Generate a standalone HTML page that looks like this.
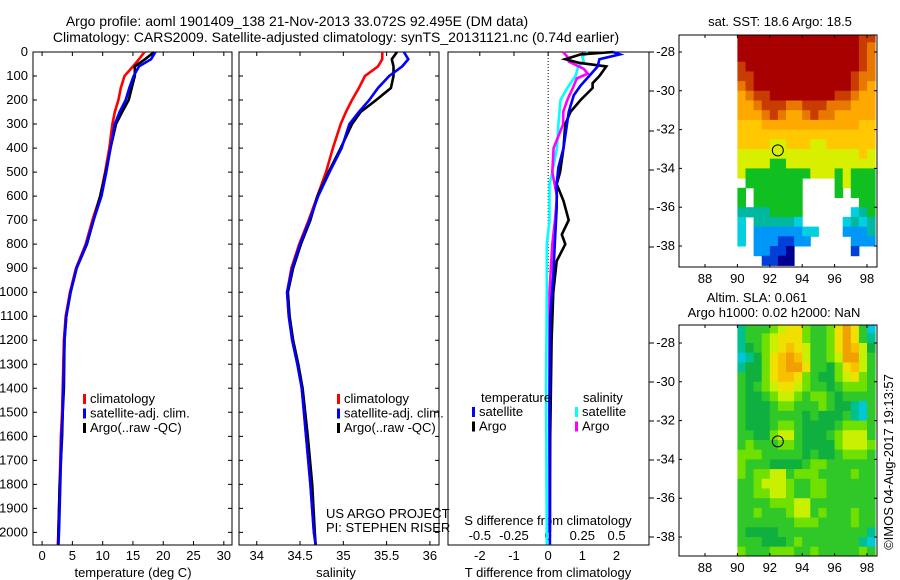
<!DOCTYPE html>
<html><head><meta charset="utf-8"><style>
html,body{margin:0;padding:0;background:#fff;}
svg{display:block;font-family:"Liberation Sans",sans-serif;font-size:13px;}
.ttl{font-size:14px;}
</style></head><body>
<svg id="fig" width="900" height="580" viewBox="0 0 900 580" xmlns="http://www.w3.org/2000/svg">
<text class="ttl" x="297" y="26" text-anchor="middle">Argo profile: aoml 1901409_138 21-Nov-2013 33.072S 92.495E (DM data)</text>
<text class="ttl" x="336" y="42" text-anchor="middle">Climatology: CARS2009. Satellite-adjusted climatology: synTS_20131121.nc (0.74d earlier)</text>
</svg>
<script>
// ---------- data ----------
const depthTicks=[0,100,200,300,400,500,600,700,800,900,1000,1100,1200,1300,1400,1500,1600,1700,1800,1900,2000];
const tempTicks=[0,5,10,15,20,25,30];
const salTicks=[34,34.5,35,35.5,36];
const salTickLabels=["34","34.5","35","35.5","36"];
const dTTicks=[-2,-1,0,1,2];
const dSTicks=[-0.5,-0.25,0,0.25,0.5];
const dSTickLabels=["-0.5","-0.25","0","0.25","0.5"];

const tDepth=[0,30,60,100,150,200,250,300,400,500,600,700,800,900,1000,1100,1200,1400,1500,1600,1800,2000,2050];
const climT=[16.9,16.0,15,13.6,13,12.6,12,11.6,11.1,10.4,9.6,8.3,7.2,5.6,4.6,3.9,3.6,3.4,3.3,3.1,2.9,2.7,2.6];
const satT=[18.7,18,16,15.1,14.4,13.8,12.8,12,11.3,10.6,9.8,8.5,7.3,5.7,4.7,4.0,3.7,3.5,3.4,3.2,3.0,2.8,2.7];
const argoT=[18.5,17,15.3,15.3,14.8,14.3,13.2,12.2,11.3,10.5,9.6,8.5,7.4,5.7,4.7,4.0,3.7,3.6,3.4,3.3,2.9,2.7,2.7];

const sDepth=[0,30,60,100,150,200,250,300,400,500,600,700,800,900,1000,1100,1200,1300,1400,1600,1800,2000,2050];
const climS=[35.45,35.45,35.4,35.25,35.18,35.1,35.03,34.97,34.88,34.8,34.7,34.6,34.49,34.4,34.35,34.37,34.41,34.47,34.52,34.57,34.62,34.66,34.68];
const satS=[35.7,35.75,35.68,35.53,35.4,35.3,35.18,35.07,34.98,34.84,34.71,34.61,34.5,34.41,34.35,34.37,34.41,34.47,34.52,34.57,34.62,34.66,34.68];
const argoS=[35.62,35.56,35.58,35.58,35.55,35.38,35.2,35.1,34.97,34.83,34.7,34.62,34.51,34.42,34.36,34.38,34.42,34.48,34.53,34.59,34.64,34.67,34.68];

const dTsatDepth=[0,10,30,60,100,140,180,250,350,400,480,550,650,780,930,1100,1480,1940,2050];
const dTsat=[1.9,2.1,1.5,1.45,1.2,0.95,0.75,0.6,0.5,0.45,0.3,0.25,0.25,0.2,0.15,0.06,0.04,0.05,0.05];
const dTargoDepth=[0,10,30,45,60,100,130,150,200,250,300,400,500,550,620,700,760,800,870,1000,1200,1400,1600,2000];
const dTargo=[1.9,0.95,0.5,0.9,1.7,1.5,1.3,1.3,0.95,0.65,0.5,0.45,0.35,0.25,0.45,0.6,0.4,0.5,0.25,0.15,0.1,0.08,0.06,0.05];
const dSsatDepth=[0,20,40,60,100,150,200,300,400,500,550,700,800,1000,1400,2050];
const dSsat=[0.29,0.25,0.26,0.22,0.2,0.14,0.09,0.075,0.065,0.03,0.01,0.01,-0.01,-0.01,-0.015,-0.01];
const dSargoDepth=[0,20,40,70,90,110,150,200,250,300,400,500,600,700,800,1000,1500,2000];
const dSargo=[0.11,0.14,0.15,0.26,0.29,0.21,0.18,0.14,0.11,0.11,0.04,0.03,0.065,0.05,0.03,0.01,0.01,0.01];

const mapLonTicks=[88,90,92,94,96,98];
const mapLatTicks=[-28,-30,-32,-34,-36,-38];
const sstRows=[
"99999999999999988","99999999999999987","99999999999999987","89999999999999987",
"88999999999999877","78999999999999876","67889999999988766","66788877888777666",
"66678766787766666","55566666666666655","55555555555555555","55554455544555555",
"44444444444444454","44443344444444444","43333333344434333",".3333333....34333",
"3.333333....3.333","3.333333.......33","22223333......c23","c.22222c.....c2c2",
"c.111111cc...1112","c.1110011.....111","..1100n.......0..","...00nn.........."];
const slaRows=[
"tggglyYYlgglYOYgc","tgglyYYYlgglYOYgt","tGglyYoYygglYOoyG","ctGlYoOoygglyOOyg",
"tGGlYoOOYggGlYoyg","gGGlYooYlgGGlyYlg","gGglyYYylggGglllg","gGGglyylgllgGgggg",
"gGGGgllggglgGGtcg","gGGGggggGgGGGgtcg","gGGGgllgGGGGglllg","ggGGlyygGGGglyyyg",
"glgggllgGGGGlyyyl","lllgggggGgGGglllg","lgggGGGGgllgggggg","lgllyyglllgggglgg",
"gglyyylggllgggggg","ggllyylggllgggggg","gggglllyygggggggg","gglggglyyglggglgg",
"ggggggglllgggglgg","gGGGGgggggggggggt","gggGGGglgggggggtc","lggglllgglggggglg"];
const argoLon=92.495, argoLat=-33.072;

// ---------- helpers ----------
const NS="http://www.w3.org/2000/svg";
const svg=document.getElementById('fig');
function mk(tag,attrs,parent){const e=document.createElementNS(NS,tag);for(const k in attrs)e.setAttribute(k,attrs[k]);(parent||svg).appendChild(e);return e;}
function txt(x,y,s,anchor,parent){const e=mk('text',{x:x,y:y,'text-anchor':anchor||'start'},parent);e.textContent=s;return e;}

const Y=d=>52+d*0.2402;
const boxTop=52, boxBot=545;
const P1={x0:33,x1:232,vmin:-1.5,vmax:31.35};
const P2={x0:239,x1:439,vmin:33.795,vmax:36.105};
const P3={x0:448,x1:649,vmin:-2.93,vmax:2.95};
const X=(p,v)=>p.x0+(v-p.vmin)/(p.vmax-p.vmin)*(p.x1-p.x0);
const XS=v=>X(P3,v*4);

function drawBox(p,name){
  const r=mk('rect',{x:p.x0,y:boxTop,width:p.x1-p.x0,height:boxBot-boxTop,fill:'none',stroke:'#000','stroke-width':1});
  
  
  depthTicks.forEach(d=>{
    const t=mk('path',{d:`M${p.x0},${Y(d)}h4M${p.x1},${Y(d)}h-4`,stroke:'#000'});
    
    
  });
}
function series(p,xs,ds,color,name,xf){
  const pts=xs.map((v,i)=>`${(xf?xf(v):X(p,v)).toFixed(1)},${Y(ds[i]).toFixed(1)}`).join(' ');
  const l=mk('polyline',{points:pts,fill:'none',stroke:color,'stroke-width':2.6,'stroke-linejoin':'miter'});
  
  
}

drawBox(P1,'temperature-plot-area');
depthTicks.forEach(d=>{const t=txt(28,Y(d)+4,String(d),'end');

});
tempTicks.forEach(v=>{const x=X(P1,v);
const m=mk('path',{d:`M${x},${boxBot}v-4M${x},${boxTop}v4`,stroke:'#000'});


const t=txt(x,560,String(v),'middle');

});
series(P1,climT,tDepth,'#f00','temperature-climatology-line');
series(P1,argoT,tDepth,'#000','temperature-argo-line');
series(P1,satT,tDepth,'#00f','temperature-satellite-line');
const xl1=txt(133,577,'temperature (deg C)','middle');



drawBox(P2,'salinity-plot-area');
salTicks.forEach((v,i)=>{const x=X(P2,v);
const m=mk('path',{d:`M${x},${boxBot}v-4M${x},${boxTop}v4`,stroke:'#000'});


const t=txt(x,560,salTickLabels[i],'middle');

});
series(P2,climS,sDepth,'#f00','salinity-climatology-line');
series(P2,argoS,sDepth,'#000','salinity-argo-line');
series(P2,satS,sDepth,'#00f','salinity-satellite-line');
const xl2=txt(336,577,'salinity','middle');



function legend(x,y,items,prefix){
  items.forEach((it,i)=>{
    const b=mk('rect',{x:x,y:y+i*14.5-9,width:3,height:10,fill:it[1]});
    
    
    const t=txt(x+7,y+i*14.5,it[0]);
    
    
  });
}
const legItems=[['climatology','#f00'],['satellite-adj. clim.','#00f'],['Argo(..raw -QC)','#000']];
legend(83,403,legItems,'temperature');
legend(337,403,legItems,'salinity');
const us1=txt(326,518,'US ARGO PROJECT');


const us2=txt(326,532,'PI: STEPHEN RISER');



const b3=mk('rect',{x:P3.x0,y:boxTop,width:P3.x1-P3.x0,height:boxBot-boxTop,fill:'none',stroke:'#000'});


const rTicks=[52,91,131,170,209,247,343,382,421,460,498,537];
rTicks.forEach(y=>{const m=mk('path',{d:`M${P3.x1},${y}h5`,stroke:'#000'});

});
const zl=mk('line',{x1:X(P3,0),y1:boxTop,x2:X(P3,0),y2:272,stroke:'#000','stroke-dasharray':'1,2'});


dTTicks.forEach(v=>{const x=X(P3,v);
const m=mk('path',{d:`M${x},${boxTop}v4`,stroke:'#000'});


const t=txt(x,560,String(v),'middle');

});
dSTicks.forEach((v,i)=>{const t=txt(XS(v),540,dSTickLabels[i],'middle');

});
const sdt=txt(548,525,'S difference from climatology','middle');


const tdt=txt(548,577,'T difference from climatology','middle');


series(P3,dSsat,dSsatDepth,'#0ff','salinity-satellite-difference-line',XS);
series(P3,dSargo,dSargoDepth,'#f0f','salinity-argo-difference-line',XS);
series(P3,dTargo,dTargoDepth,'#000','temperature-argo-difference-line');
series(P3,dTsat,dTsatDepth,'#00f','temperature-satellite-difference-line');
const lt=txt(481,402,'temperature');


const ls=txt(583,402,'salinity');


legend(472,416,[['satellite','#00f'],['Argo','#000']],'difference-temperature');
legend(575,416,[['satellite','#0ff'],['Argo','#f0f']],'difference-salinity');

const sstColors={'9':'#a80000','8':'#c83c00','7':'#e87800','6':'#ffa800','5':'#ffc800','4':'#d8f000','3':'#10c020','2':'#00b8a0','c':'#00d0e0','1':'#0098f8','0':'#0040d8','n':'#000090'};
const slaColors={'G':'#10b040','g':'#30c828','l':'#70e000','y':'#c8f000','Y':'#f0e000','o':'#f8c000','O':'#f0a000','t':'#00c090','c':'#00c8d8'};
function drawMap(M,rows,colors,name){
  const LX=lon=>705+(lon-88)*16.2;
  const LY=lat=>M.y28+(-28-lat)*19.4;
  const g=mk('g',{});
  
  
  const cp=mk('clipPath',{id:name+'-clip'},g);
  mk('rect',{x:M.x0,y:M.y0,width:M.x1-M.x0,height:M.y1-M.y0},cp);
  const cells=mk('g',{'clip-path':`url(#${name}-clip)`},g);
  rows.forEach((row,i)=>{
    for(let j=0;j<row.length;j++){
      const c=colors[row[j]]; if(!c) continue;
      const lon=90+j*0.5, lat=-27-i*0.5;
      const r=mk('rect',{x:LX(lon).toFixed(1),y:LY(lat).toFixed(1),width:8.6,height:10.2,fill:c},cells);
      
      
    }
  });
  const fr=mk('rect',{x:M.x0,y:M.y0,width:M.x1-M.x0,height:M.y1-M.y0,fill:'none',stroke:'#000'},g);
  
  
  mapLonTicks.forEach(v=>{const x=LX(v);
    const m=mk('path',{d:`M${x},${M.y1}v-3M${x},${M.y0}v3`,stroke:'#000'},g);
    
    
    const t=txt(x,M.y1+16,String(v),'middle',g);
    
    });
  mapLatTicks.forEach(v=>{const y=LY(v);
    const m=mk('path',{d:`M${M.x0},${y}h3M${M.x1},${y}h-3`,stroke:'#000'},g);
    
    
    const t=txt(M.x0-4,y+4,String(v),'end',g);
    
    });
  const c=mk('circle',{cx:LX(argoLon),cy:LY(argoLat),r:5.5,fill:'none',stroke:'#000'},g);
  
  
}
drawMap({x0:679,x1:877,y0:35,y1:267,y28:52},sstRows,sstColors,'sst-map');
drawMap({x0:679,x1:877,y0:325,y1:556,y28:343},slaRows,slaColors,'sla-map');
const m1=txt(780,26,'sat. SST: 18.6 Argo: 18.5','middle');


const m2=txt(757,302,'Altim. SLA: 0.061','middle');


const m3=txt(774,317,'Argo h1000: 0.02 h2000: NaN','middle');


const cr=txt(0,0,'©IMOS 04-Aug-2017 19:13:57','middle');
cr.setAttribute('transform','translate(893,462) rotate(-90)');


</script>
</body></html>
